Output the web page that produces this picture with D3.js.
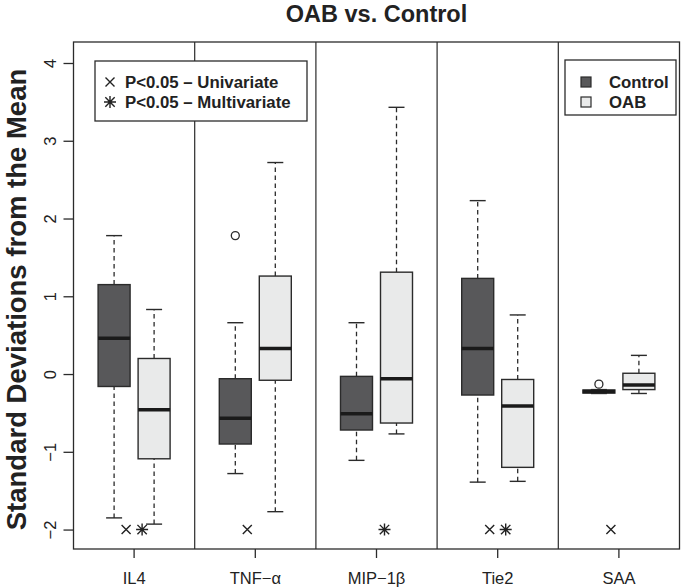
<!DOCTYPE html>
<html>
<head>
<meta charset="utf-8">
<script src="https://cdn.jsdelivr.net/npm/d3@7"></script>
<style>
  html, body { margin: 0; padding: 0; background: #fff; }
  svg { display: block; font-family: "Liberation Sans", Arial, Helvetica, sans-serif; }
</style>
</head>
<body>
<svg id="chart" width="681" height="587"></svg>
<script>
// ---------- data ----------
const categories = ["IL4", "TNF\u2212\u03b1", "MIP\u22121\u03b2", "Tie2", "SAA"];
const groups = ["Control", "OAB"];
// five-number summaries per category: [lowWhisker, q1, median, q3, highWhisker]
const controlStats = [
  [-1.85, -0.16, 0.46, 1.15, 1.78],
  [-1.28, -0.90, -0.57, -0.06, 0.66],
  [-1.11, -0.72, -0.51, -0.03, 0.66],
  [-1.39, -0.27, 0.33, 1.23, 2.23],
  [-0.25, -0.245, -0.225, -0.205, -0.20]
];
const oabStats = [
  [-1.93, -1.09, -0.46, 0.20, 0.83],
  [-1.77, -0.08, 0.33, 1.26, 2.72],
  [-0.77, -0.63, -0.06, 1.31, 3.43],
  [-1.38, -1.20, -0.41, -0.07, 0.76],
  [-0.25, -0.20, -0.14, 0.01, 0.24]
];
const controlOutliers = [[], [1.78], [], [], [-0.13]];
const oabOutliers = [[], [], [], [], []];
const univariateSig = [true, true, false, true, true];
const multivariateSig = [true, false, true, true, false];
const markerValue = -2;
const yTicks = [-2, -1, 0, 1, 2, 3, 4];
const titleText = "OAB vs. Control";
const yLabel = "Standard Deviations from the Mean";
const legendSig = ["P<0.05 \u2013 Univariate", "P<0.05 \u2013 Multivariate"];

// ---------- layout ----------
const svg = d3.select("#chart");
const plot = { left: 73.5, right: 679.5, top: 42, bottom: 549 };
const fillColor = { Control: "#58585a", OAB: "#e9eaea" };
const stroke = "#2b2b2b";

const x = d3.scaleBand().domain(categories).range([plot.left, plot.right]);
const sub = d3.scaleBand().domain(groups).range([-36, 36]).paddingInner(0.2);
const y = d3.scaleLinear().domain([-2.25, 4.27]).range([plot.bottom, plot.top]);

const boxes = [];
categories.forEach((c, i) => {
  boxes.push({ cat: c, grp: "Control", s: controlStats[i], out: controlOutliers[i] });
  boxes.push({ cat: c, grp: "OAB", s: oabStats[i], out: oabOutliers[i] });
});
const cx = d => x(d.cat) + x.bandwidth() / 2 + sub(d.grp) + sub.bandwidth() / 2;

// dividers
svg.append("g").selectAll("line").data(categories.slice(1)).join("line")
  .attr("x1", d => x(d)).attr("x2", d => x(d))
  .attr("y1", plot.top).attr("y2", plot.bottom)
  .attr("stroke", stroke).attr("stroke-width", 1.2);

const g = svg.append("g");
// whiskers
g.selectAll(".wl").data(boxes).join("line")
  .attr("x1", cx).attr("x2", cx)
  .attr("y1", d => y(d.s[0])).attr("y2", d => y(d.s[1]))
  .attr("stroke", stroke).attr("stroke-width", 1.3).attr("stroke-dasharray", "4.5,3.5");
g.selectAll(".wh").data(boxes).join("line")
  .attr("x1", cx).attr("x2", cx)
  .attr("y1", d => y(d.s[3])).attr("y2", d => y(d.s[4]))
  .attr("stroke", stroke).attr("stroke-width", 1.3).attr("stroke-dasharray", "4.5,3.5");
// caps
[0, 4].forEach(k => {
  g.selectAll(".cap" + k).data(boxes).join("line")
    .attr("x1", d => cx(d) - sub.bandwidth() / 4).attr("x2", d => cx(d) + sub.bandwidth() / 4)
    .attr("y1", d => y(d.s[k])).attr("y2", d => y(d.s[k]))
    .attr("stroke", stroke).attr("stroke-width", 1.4);
});
// boxes
g.selectAll(".box").data(boxes).join("rect")
  .attr("x", d => cx(d) - sub.bandwidth() / 2)
  .attr("width", sub.bandwidth())
  .attr("y", d => y(d.s[3]))
  .attr("height", d => Math.max(1, y(d.s[1]) - y(d.s[3])))
  .attr("fill", d => fillColor[d.grp])
  .attr("stroke", stroke).attr("stroke-width", 1.4);
// medians
g.selectAll(".med").data(boxes).join("line")
  .attr("x1", d => cx(d) - sub.bandwidth() / 2).attr("x2", d => cx(d) + sub.bandwidth() / 2)
  .attr("y1", d => y(d.s[2])).attr("y2", d => y(d.s[2]))
  .attr("stroke", "#1a1a1a").attr("stroke-width", 3.5);
// outliers
const outs = boxes.flatMap(d => d.out.map(v => ({ d, v })));
g.selectAll(".out").data(outs).join("circle")
  .attr("cx", o => cx(o.d)).attr("cy", o => y(o.v)).attr("r", 4)
  .attr("fill", "none").attr("stroke", stroke).attr("stroke-width", 1.3);

// significance markers
function cross(sel, px, py, r) {
  sel.append("path").attr("d", `M${px - r},${py - r}L${px + r},${py + r}M${px - r},${py + r}L${px + r},${py - r}`)
    .attr("stroke", "#222").attr("stroke-width", 1.4).attr("fill", "none");
}
function star(sel, px, py, r) {
  const q = r * 0.78;
  sel.append("path").attr("d",
    `M${px - q},${py - q}L${px + q},${py + q}M${px - q},${py + q}L${px + q},${py - q}M${px - r},${py}L${px + r},${py}M${px},${py - r}L${px},${py + r}`)
    .attr("stroke", "#222").attr("stroke-width", 1.4).attr("fill", "none");
}
const mk = svg.append("g");
categories.forEach((c, i) => {
  const center = x(c) + x.bandwidth() / 2;
  if (univariateSig[i]) cross(mk, center - 8, y(markerValue), 4.5);
  if (multivariateSig[i]) star(mk, center + 8, y(markerValue), 6);
});

// frame
svg.append("rect").attr("x", plot.left).attr("y", plot.top)
  .attr("width", plot.right - plot.left).attr("height", plot.bottom - plot.top)
  .attr("fill", "none").attr("stroke", stroke).attr("stroke-width", 1.3);

// y axis
const yAxis = svg.append("g").attr("transform", `translate(${plot.left},0)`)
  .call(d3.axisLeft(y).tickValues(yTicks).tickSize(10).tickPadding(0)
    .tickFormat(d => d < 0 ? "\u2212" + Math.abs(d) : d));
yAxis.select(".domain").remove();
yAxis.selectAll(".tick line").attr("stroke", stroke).attr("stroke-width", 1.3);
yAxis.selectAll(".tick text")
  .attr("x", null).attr("dy", null)
  .attr("transform", "translate(-18,0) rotate(-90)")
  .attr("text-anchor", "middle")
  .attr("font-size", 16.5).attr("fill", "#222")
  .attr("font-family", "Liberation Sans, Arial, sans-serif");

// x axis
const xAxis = svg.append("g").attr("transform", `translate(0,${plot.bottom})`)
  .call(d3.axisBottom(x).tickSize(9).tickPadding(14));
xAxis.select(".domain").remove();
xAxis.selectAll(".tick line").attr("stroke", stroke).attr("stroke-width", 1.3);
xAxis.selectAll(".tick text").attr("font-size", 16.5).attr("fill", "#222")
  .attr("font-family", "Liberation Sans, Arial, sans-serif");

// title
svg.append("text").attr("x", (plot.left + plot.right) / 2).attr("y", 22)
  .attr("text-anchor", "middle").attr("font-weight", "bold").attr("font-size", 23.5)
  .attr("fill", "#222").text(titleText);

// y label
svg.append("text").attr("transform", `translate(26,${(plot.top + plot.bottom) / 2 + 4}) rotate(-90)`)
  .attr("text-anchor", "middle").attr("font-weight", "bold").attr("font-size", 27.5)
  .attr("fill", "#222").text(yLabel);

// left legend
const lg = svg.append("g");
lg.append("rect").attr("x", 95).attr("y", 61).attr("width", 212).attr("height", 60)
  .attr("fill", "#fff").attr("stroke", stroke).attr("stroke-width", 1.3);
cross(lg, 110, 82, 4.5);
star(lg, 110, 102, 6);
legendSig.forEach((t, i) => {
  lg.append("text").attr("x", 125).attr("y", 88 + i * 20)
    .attr("font-weight", "bold").attr("font-size", 16.8).attr("fill", "#222").text(t);
});

// right legend
const rg = svg.append("g");
rg.append("rect").attr("x", 565).attr("y", 60).attr("width", 111).attr("height", 55)
  .attr("fill", "#fff").attr("stroke", stroke).attr("stroke-width", 1.3);
groups.forEach((gname, i) => {
  rg.append("rect").attr("x", 581).attr("y", 77 + i * 20).attr("width", 10).attr("height", 10)
    .attr("fill", fillColor[gname]).attr("stroke", stroke).attr("stroke-width", 1.2);
  rg.append("text").attr("x", 609).attr("y", 88 + i * 20)
    .attr("font-weight", "bold").attr("font-size", 16.8).attr("fill", "#222").text(gname);
});
</script>
</body>
</html>
